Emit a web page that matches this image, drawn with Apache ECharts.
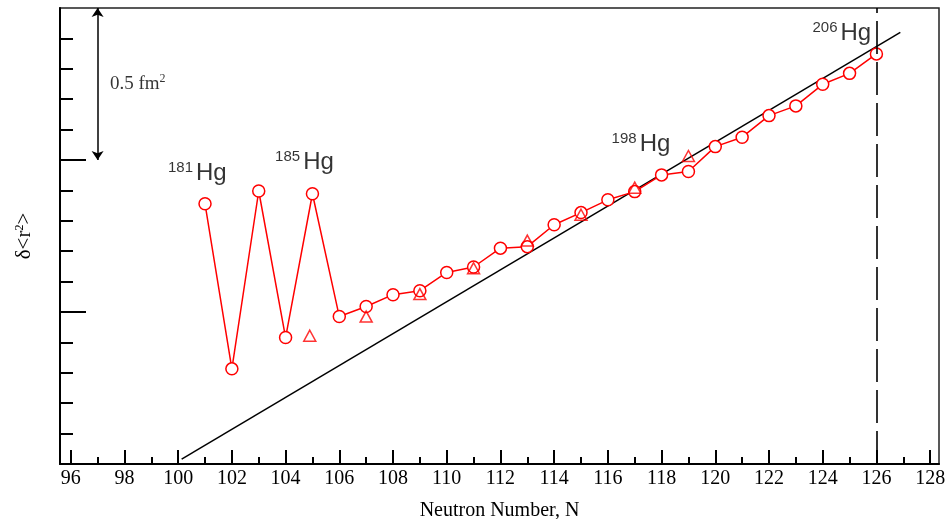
<!DOCTYPE html>
<html>
<head>
<meta charset="utf-8">
<script src="https://cdn.jsdelivr.net/npm/echarts@6/dist/echarts.min.js"></script>
<style>
html,body{margin:0;padding:0;background:#fff;}
#chart{width:947px;height:519px;}
</style>
</head>
<body>
<div id="chart"></div>
<script>
// ---- data ----
const N_CIRCLE = [101,102,103,104,105,106,107,108,109,110,111,112,113,114,115,116,117,118,119,120,121,122,123,124,125,126];
const DR2_CIRCLE = [0.856,0.313,0.898,0.416,0.889,0.485,0.518,0.557,0.570,0.630,0.648,0.710,0.715,0.787,0.827,0.869,0.896,0.951,0.962,1.044,1.075,1.146,1.178,1.249,1.285,1.349];
const N_TRI = [104.9,107,109,111,113,115,117,119];
const DR2_TRI = [0.422,0.485,0.559,0.644,0.735,0.820,0.909,1.013];
const REF_LINE_N = [100.13,126.89];
const REF_LINE_DR2 = [0.016,1.420];
const SHELL_N = 126;
const SCALE_BAR_N = 97;
const SCALE_BAR_DR2 = [1.0,1.5];
const SCALE_TEXT = '0.5 fm';
const X_MAJOR_TICKS = [96,98,100,102,104,106,108,110,112,114,116,118,120,122,124,126,128];
const X_MINOR_TICKS = [97,99,101,103,105,107,109,111,113,115,117,119,121,123,125,127];
const Y_MINOR_TICKS = [0.1,0.2,0.3,0.4,0.6,0.7,0.8,0.9,1.1,1.2,1.3,1.4];
const Y_MAJOR_TICKS = [0.5,1.0];
const ISOTOPE_MASS = ['181','185','198','206'];
const ISOTOPE_LABEL_N = [99.62,103.61,116.14,123.62];
const ISOTOPE_LABEL_DR2 = [0.956,0.992,1.053,1.417];
const X_MIN = 95.6, X_MAX = 128.33, Y_MIN = 0, Y_MAX = 1.5;

const serif = '"Liberation Serif", "Times New Roman", serif';
const sans = '"Liberation Sans", Arial, sans-serif';
const RED = '#ff0000';

const chart = echarts.init(document.getElementById('chart'), null, {renderer:'canvas'});

const circleData = N_CIRCLE.map((n,i)=>[n, DR2_CIRCLE[i]]);
const triData = N_TRI.map((n,i)=>[n, DR2_TRI[i]]);
const refData = REF_LINE_N.map((n,i)=>[n, REF_LINE_DR2[i]]);
const labelData = ISOTOPE_MASS.map((m,i)=>[ISOTOPE_LABEL_N[i], ISOTOPE_LABEL_DR2[i], m]);

const baseX = {type:'value', min:X_MIN, max:X_MAX, position:'bottom', splitLine:{show:false}};
const baseY = {type:'value', min:Y_MIN, max:Y_MAX, position:'left', splitLine:{show:false}};

chart.setOption({
  animation:false,
  grid:{left:60, right:8, top:8, bottom:55, show:true, borderColor:'#222', borderWidth:1.5,
        backgroundColor:'transparent', containLabel:false, outerBoundsMode:'none'},
  xAxis:[
    Object.assign({}, baseX, {
      name:'Neutron Number, N', nameLocation:'middle', nameGap:37,
      nameTextStyle:{fontFamily:serif, fontSize:20, color:'#000'},
      axisLine:{show:true, onZero:false, lineStyle:{color:'#000', width:2}},
      axisTick:{show:true, inside:true, length:14, lineStyle:{color:'#000', width:2}, customValues:X_MAJOR_TICKS},
      axisLabel:{show:true, margin:5, fontFamily:serif, fontSize:20, color:'#000', customValues:X_MAJOR_TICKS}
    }),
    Object.assign({}, baseX, {
      axisLine:{show:false},
      axisTick:{show:true, inside:true, length:7, lineStyle:{color:'#000', width:2}, customValues:X_MINOR_TICKS},
      axisLabel:{show:false}
    })
  ],
  yAxis:[
    Object.assign({}, baseY, {
      name:'{a|δ<r}{s|2}{a|>}', nameLocation:'middle', nameGap:25,
      nameTextStyle:{color:'#000', rich:{
        a:{fontFamily:serif, fontSize:21, color:'#000'},
        s:{fontFamily:serif, fontSize:12, color:'#000', verticalAlign:'top'}
      }},
      axisLine:{show:true, onZero:false, lineStyle:{color:'#000', width:2}},
      axisTick:{show:true, inside:true, length:13, lineStyle:{color:'#000', width:2}, customValues:Y_MINOR_TICKS},
      axisLabel:{show:false}
    }),
    Object.assign({}, baseY, {
      axisLine:{show:false},
      axisTick:{show:true, inside:true, length:26, lineStyle:{color:'#000', width:2}, customValues:Y_MAJOR_TICKS},
      axisLabel:{show:false}
    })
  ],
  series:[
    {
      type:'line', data:refData, symbol:'none', silent:true,
      lineStyle:{color:'#000', width:1.5}, z:2,
      markLine:{
        silent:true, symbol:'none', label:{show:false},
        lineStyle:{color:'#000', width:1.6, type:[33,8]},
        data:[{xAxis:SHELL_N}]
      }
    },
    {
      type:'line', data:circleData, symbol:'circle', symbolSize:12,
      lineStyle:{color:RED, width:1.5},
      itemStyle:{color:'#fff', borderColor:RED, borderWidth:1.5}, z:3
    },
    {
      type:'scatter', data:triData, symbol:'triangle', symbolSize:[12,11],
      itemStyle:{color:'rgba(0,0,0,0)', borderColor:RED, borderWidth:1.5}, z:4
    },
    {
      type:'scatter', data:labelData, symbolSize:0, silent:true, z:5,
      label:{show:true, position:'right', distance:0,
        formatter:p=>'{s|'+p.value[2]+'}{h|Hg}',
        rich:{
          s:{fontFamily:sans, fontSize:15, color:'#000', verticalAlign:'top', padding:[0,3,0,0]},
          h:{fontFamily:sans, fontSize:24, color:'#000', lineHeight:26}
        }
      }
    },
    {
      type:'scatter', data:[[SCALE_BAR_N + 0.46, (SCALE_BAR_DR2[0]+SCALE_BAR_DR2[1])/2]], symbolSize:0, silent:true, z:5,
      label:{show:true, position:'right', distance:0,
        formatter:'{a|'+SCALE_TEXT+'}{s|2}',
        rich:{
          a:{fontFamily:serif, fontSize:19, color:'#000', lineHeight:22},
          s:{fontFamily:serif, fontSize:12, color:'#000', verticalAlign:'top'}
        }
      },
      markLine:{
        silent:true, symbol:['arrow','arrow'], symbolSize:[9,9],
        label:{show:false},
        lineStyle:{color:'#000', width:1.5, type:'solid'},
        data:[[{coord:[SCALE_BAR_N, SCALE_BAR_DR2[0]]},{coord:[SCALE_BAR_N, SCALE_BAR_DR2[1]]}]]
      }
    }
  ]
});
</script>
</body>
</html>
